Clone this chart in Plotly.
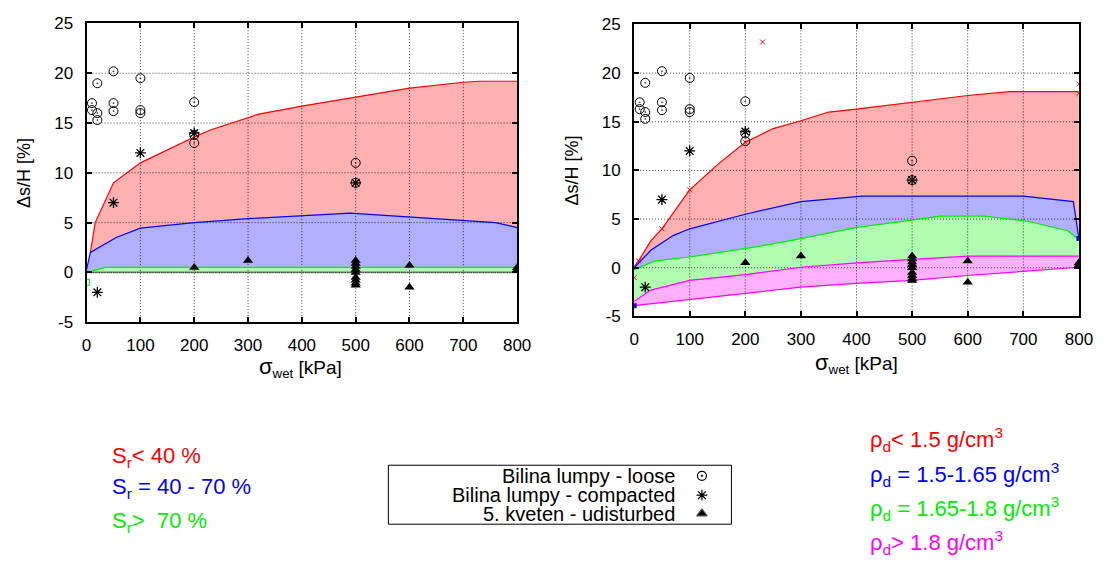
import plotly.graph_objects as go

W, H = 1117, 569

# ---- measured settlement points (same set in both panels) ----
loose_x = [10, 10, 20, 20, 20, 50, 50, 50, 100, 100, 100, 200, 200, 200, 500, 500]
loose_y = [17.0, 16.3, 19.0, 16.0, 15.3, 20.2, 17.0, 16.2, 19.5, 16.3, 16.0, 17.1, 13.8, 13.0, 11.0, 9.0]

compact_x = [20, 50, 100, 200, 500]
compact_y = [-2.0, 7.0, 12.0, 14.0, 9.0]

kveten_x = [200, 300, 500, 500, 500, 500, 500, 500, 500, 500, 500, 600, 600, 800, 800]
kveten_y = [0.5, 1.2, 1.2, 0.9, 0.6, 0.3, 0.0, -0.5, -0.8, -1.1, -1.3, 0.7, -1.5, 0.3, 0.5]

# ---- left panel: envelopes by degree of saturation ----
sr_low_x = [7, 16, 50, 100, 200, 230, 320, 400, 500, 600, 700, 730, 800]
sr_low_y = [2.0, 5.0, 9.0, 11.0, 13.6, 14.3, 15.9, 16.7, 17.6, 18.5, 19.1, 19.2, 19.2]
sr_mid_x = [0, 7, 55, 100, 200, 300, 490, 760, 800]
sr_mid_y = [0.3, 2.0, 3.5, 4.45, 5.0, 5.4, 5.95, 5.0, 4.5]
sr_high_x = [0, 35, 800]
sr_high_y = [0.0, 0.5, 0.5]
sr_base_x = [0, 800]
sr_base_y = [0.0, 0.0]

# ---- right panel: envelopes by dry density ----
rho1_x = [0, 8, 30, 50, 100, 150, 200, 250, 300, 350, 400, 500, 600, 675, 800]
rho1_y = [0.1, 0.7, 2.75, 4.0, 8.0, 10.6, 12.9, 14.3, 15.1, 16.0, 16.3, 17.0, 17.7, 18.1, 18.1]
rho2_x = [0, 30, 70, 100, 200, 300, 410, 700, 790, 800]
rho2_y = [0.0, 1.8, 3.3, 4.0, 5.5, 6.8, 7.35, 7.35, 6.8, 3.0]
rho3_x = [0, 38, 100, 200, 230, 300, 400, 500, 550, 630, 710, 780, 800]
rho3_y = [-0.2, 0.7, 1.1, 1.95, 2.25, 3.0, 4.15, 4.9, 5.3, 5.3, 4.75, 3.8, 2.9]
rho4_top_x = [0, 30, 100, 200, 300, 400, 500, 600, 800]
rho4_top_y = [-3.45, -2.3, -1.3, -0.7, 0.05, 0.5, 0.85, 1.2, 1.2]
rho4_bot_x = [0, 100, 200, 300, 400, 500, 600, 700, 800]
rho4_bot_y = [-3.9, -3.25, -2.65, -2.0, -1.6, -1.3, -0.8, -0.35, 0.05]

# small curve sample points
left_green_pt_x = [0]
left_green_pt_y = [-1.0]
rho1_pt_x = [0, 8, 50, 100, 200, 231, 800, 800]
rho1_pt_y = [-1.0, 0.7, 4.0, 8.0, 12.9, 23.2, 17.9, 18.9]
rho2_pt_x = [0, 800]
rho2_pt_y = [-3.9, 3.0]

# ---- axes ----
x_ticks = [0, 100, 200, 300, 400, 500, 600, 700, 800]
y_ticks = [-5, 0, 5, 10, 15, 20, 25]
y_tick_text = ["-5", "0", "5", "10", "15", "20", "25"]

legend_labels = ["Bilina lumpy - loose", "Bilina lumpy - compacted", "5. kveten - udisturbed"]
sr_labels = ["S<sub>r</sub>< 40 %", "S<sub>r</sub> = 40 - 70 %", "S<sub>r</sub>>  70 %"]
rho_labels = ["ρ<sub>d</sub>< 1.5 g/cm<sup>3</sup>", "ρ<sub>d</sub> = 1.5-1.65 g/cm<sup>3</sup>",
              "ρ<sub>d</sub> = 1.65-1.8 g/cm<sup>3</sup>", "ρ<sub>d</sub>> 1.8 g/cm<sup>3</sup>"]

RED, BLUE, GREEN, MAG = "#ff0000", "#0000ff", "#00ee00", "#ff00ff"
RED_F, BLUE_F, GREEN_F, MAG_F = "#ffb0b0", "#b0b0ff", "#b0ffb0", "#ffb0ff"
FONT = "Liberation Sans, Arial, sans-serif"


def px(x):
    return x / W


def py(y):
    return 1 - y / H


fig = go.Figure()


def band(ax, top_x, top_y, bot_x, bot_y, color):
    fig.add_trace(go.Scatter(
        x=list(top_x) + list(bot_x)[::-1], y=list(top_y) + list(bot_y)[::-1],
        fill="toself", fillcolor=color, mode="none",
        xaxis="x" + ax, yaxis="y" + ax, hoverinfo="skip", showlegend=False))


def curve(ax, xs, ys, color):
    fig.add_trace(go.Scatter(
        x=xs, y=ys, mode="lines", line=dict(color=color, width=1.2),
        xaxis="x" + ax, yaxis="y" + ax, hoverinfo="skip", showlegend=False))


def grid(ax, zero_dark=False):
    gx, gy = [], []
    for v in x_ticks[1:-1]:
        gx += [v, v, None]
        gy += [-5, 25, None]
    for v in y_ticks[1:-1]:
        gx += [0, 800, None]
        gy += [v, v, None]
    fig.add_trace(go.Scatter(
        x=gx, y=gy, mode="lines",
        line=dict(color="rgba(0,0,0,0.75)", width=1, dash="1px,2px"),
        xaxis="x" + ax, yaxis="y" + ax, hoverinfo="skip", showlegend=False))
    if zero_dark:
        fig.add_trace(go.Scatter(
            x=[0, 800], y=[0, 0], mode="lines",
            line=dict(color="rgba(0,0,0,0.9)", width=1.6, dash="1px,1px"),
            xaxis="x" + ax, yaxis="y" + ax, hoverinfo="skip", showlegend=False))


def points(ax):
    fig.add_trace(go.Scatter(
        x=loose_x, y=loose_y, mode="markers",
        marker=dict(symbol="circle-open-dot", size=9, color="black", line=dict(width=1)),
        xaxis="x" + ax, yaxis="y" + ax, showlegend=False, name=legend_labels[0]))
    fig.add_trace(go.Scatter(
        x=compact_x, y=compact_y, mode="markers",
        marker=dict(symbol="asterisk-open", size=9, color="black", line=dict(width=1.3)),
        xaxis="x" + ax, yaxis="y" + ax, showlegend=False, name=legend_labels[1]))
    fig.add_trace(go.Scatter(
        x=kveten_x, y=kveten_y, mode="markers",
        marker=dict(symbol="triangle-up", size=9, color="black"),
        xaxis="x" + ax, yaxis="y" + ax, showlegend=False, name=legend_labels[2]))


# left panel
band("", sr_low_x, sr_low_y, sr_mid_x, sr_mid_y, RED_F)
band("", sr_mid_x, sr_mid_y, sr_high_x, sr_high_y, BLUE_F)
band("", sr_high_x, sr_high_y, sr_base_x, sr_base_y, GREEN_F)
grid("", zero_dark=True)
curve("", sr_low_x, sr_low_y, RED)
curve("", sr_mid_x, sr_mid_y, BLUE)
curve("", sr_high_x, sr_high_y, GREEN)
fig.add_trace(go.Scatter(x=left_green_pt_x, y=left_green_pt_y, mode="markers",
                         marker=dict(symbol="square-open", size=6, color=GREEN, line=dict(width=1)),
                         hoverinfo="skip", showlegend=False))
points("")

# right panel
band("2", rho1_x, rho1_y, rho2_x, rho2_y, RED_F)
band("2", rho2_x, rho2_y, rho3_x, rho3_y, BLUE_F)
band("2", rho3_x, rho3_y, rho4_top_x, rho4_top_y, GREEN_F)
band("2", rho4_top_x, rho4_top_y, rho4_bot_x, rho4_bot_y, MAG_F)
grid("2")
curve("2", rho1_x, rho1_y, RED)
curve("2", rho2_x, rho2_y, BLUE)
curve("2", rho3_x, rho3_y, GREEN)
curve("2", rho4_top_x, rho4_top_y, MAG)
curve("2", rho4_bot_x, rho4_bot_y, MAG)
fig.add_trace(go.Scatter(x=rho1_pt_x, y=rho1_pt_y, mode="markers", xaxis="x2", yaxis="y2",
                         marker=dict(symbol="x-thin-open", size=5, color=RED, line=dict(width=1, color=RED)),
                         hoverinfo="skip", showlegend=False))
fig.add_trace(go.Scatter(x=rho2_pt_x, y=rho2_pt_y, mode="markers", xaxis="x2", yaxis="y2",
                         marker=dict(symbol="square", size=5, color=BLUE),
                         hoverinfo="skip", showlegend=False))
points("2")

# key symbols beside the legend box text
key_x = [709, 709, 709]
key_y = [483, 503, 522]
key_symbols = ["circle-open-dot", "asterisk-open", "triangle-up"]
for sx, sy, sym in zip(key_x, key_y, key_symbols):
    fig.add_trace(go.Scatter(x=[sx], y=[sy], mode="markers", xaxis="x3", yaxis="y3",
                             marker=dict(symbol=sym, size=9, color="black", line=dict(width=1.2)),
                             hoverinfo="skip", showlegend=False))

axis_common = dict(
    showgrid=False, zeroline=False, showline=True, linecolor="black", linewidth=2,
    mirror="ticks", ticks="inside", ticklen=5, tickwidth=1.5, tickcolor="black",
    tickfont=dict(family=FONT, size=17, color="black"), fixedrange=True,
)

fig.update_layout(
    width=W, height=H, margin=dict(l=0, r=0, t=0, b=0),
    paper_bgcolor="white", plot_bgcolor="rgba(0,0,0,0)", showlegend=False,
    xaxis=dict(domain=[px(83), px(521)], range=[0, 800], tickvals=x_ticks, anchor="y",
               ticklabelstandoff=6, **axis_common),
    yaxis=dict(domain=[py(324), py(15)], range=[-5, 25], tickvals=y_ticks, ticktext=y_tick_text,
               anchor="x", ticklabelstandoff=8, **axis_common),
    xaxis2=dict(domain=[px(640), px(1092.5)], range=[0, 800], tickvals=x_ticks, anchor="y2",
                ticklabelstandoff=6, **axis_common),
    yaxis2=dict(domain=[py(318), py(16)], range=[-5, 25], tickvals=y_ticks, ticktext=y_tick_text,
                anchor="x2", ticklabelstandoff=8, **axis_common),
    xaxis3=dict(domain=[0, 1], range=[0, W], visible=False, fixedrange=True, anchor="y3"),
    yaxis3=dict(domain=[0, 1], range=[H, 0], visible=False, fixedrange=True, anchor="x3"),
)

ann = []
# axis titles
for cx, cy in [(301, 371), (866, 367)]:
    ann.append(dict(x=px(cx), y=py(cy), xref="paper", yref="paper", showarrow=False,
                    text="<span style='font-size:22px'>σ</span><sub>wet</sub> [kPa]",
                    font=dict(family=FONT, size=19, color="black"), xanchor="center", yanchor="middle"))
for cx, cy in [(20, 170), (577, 167)]:
    ann.append(dict(x=px(cx), y=py(cy), xref="paper", yref="paper", showarrow=False, textangle=-90,
                    text="Δs/H [%]", font=dict(family=FONT, size=18, color="black"),
                    xanchor="center", yanchor="middle"))

# saturation labels
for lab, col, cy in zip(sr_labels, [RED, BLUE, GREEN], [463, 496, 531]):
    ann.append(dict(x=px(107), y=py(cy), xref="paper", yref="paper", showarrow=False, text=lab,
                    font=dict(family=FONT, size=22, color=col), xanchor="left", yanchor="middle"))

# density labels
for lab, col, cy in zip(rho_labels, [RED, BLUE, GREEN, MAG], [445, 482, 517, 552]):
    ann.append(dict(x=px(878), y=py(cy), xref="paper", yref="paper", showarrow=False, text=lab,
                    font=dict(family=FONT, size=22, color=col), xanchor="left", yanchor="middle"))

# legend box text
for lab, cy in zip(legend_labels, key_y):
    ann.append(dict(x=px(684), y=py(cy), xref="paper", yref="paper", showarrow=False, text=lab,
                    font=dict(family=FONT, size=20, color="black"), xanchor="right", yanchor="middle"))

fig.update_layout(annotations=ann)
fig.add_shape(type="rect", xref="paper", yref="paper",
              x0=px(390), x1=px(739), y0=py(533), y1=py(472),
              line=dict(color="black", width=1), fillcolor="rgba(0,0,0,0)")

fig.write_html("out.html")
